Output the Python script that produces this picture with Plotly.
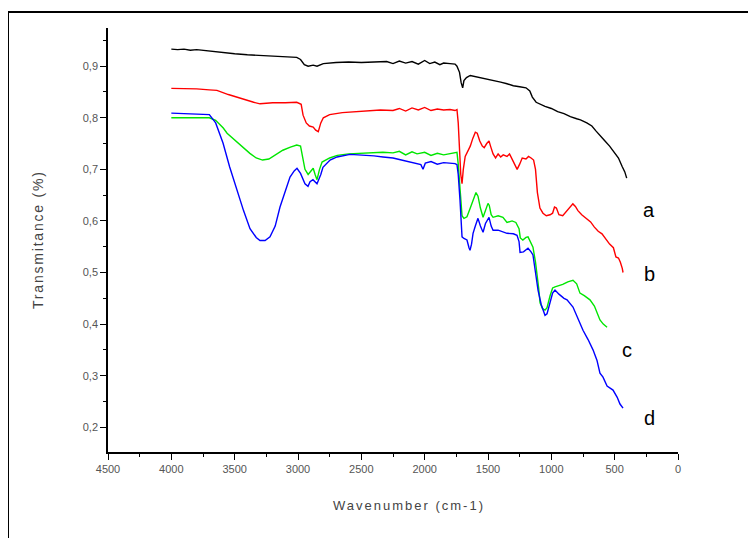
import plotly.graph_objects as go

# ---- data (wavenumber cm-1, transmittance) ----
wn_a = [4000, 3950, 3900, 3850, 3800, 3700, 3600, 3500, 3400, 3300, 3200, 3100, 3010, 2980, 2950, 2920,
        2880, 2850, 2800, 2700, 2600, 2500, 2400, 2300, 2250, 2200, 2150, 2100, 2050, 2000, 1960, 1920,
        1880, 1850, 1800, 1760, 1745, 1725, 1712, 1700, 1690, 1670, 1640, 1600, 1550, 1500, 1450, 1400,
        1350, 1300, 1250, 1200, 1170, 1150, 1120, 1090, 1050, 1000, 950, 900, 850, 800, 770, 720, 680,
        650, 620, 580, 540, 500, 470, 440, 420, 405]
t_a = [0.933, 0.932, 0.933, 0.931, 0.932, 0.929, 0.926, 0.924, 0.922, 0.921, 0.920, 0.919, 0.917, 0.913,
       0.903, 0.900, 0.902, 0.900, 0.905, 0.907, 0.908, 0.907, 0.908, 0.909, 0.905, 0.910, 0.906, 0.909,
       0.904, 0.911, 0.905, 0.908, 0.903, 0.906, 0.905, 0.904, 0.900, 0.888, 0.868, 0.858, 0.872, 0.878,
       0.882, 0.880, 0.878, 0.874, 0.872, 0.869, 0.866, 0.862, 0.860, 0.858, 0.852, 0.840, 0.830, 0.826,
       0.822, 0.818, 0.812, 0.808, 0.802, 0.798, 0.796, 0.790, 0.784, 0.775, 0.766, 0.756, 0.745, 0.733,
       0.722, 0.705, 0.695, 0.683]

wn_b = [4000, 3900, 3800, 3700, 3640, 3550, 3450, 3350, 3300, 3200, 3100, 3010, 2975, 2960, 2935, 2910,
        2880, 2860, 2840, 2820, 2800, 2750, 2650, 2550, 2450, 2350, 2250, 2200, 2150, 2100, 2050, 2000,
        1950, 1900, 1850, 1800, 1760, 1745, 1735, 1725, 1715, 1705, 1695, 1680, 1665, 1640, 1620, 1600,
        1585, 1565, 1545, 1530, 1510, 1492, 1480, 1460, 1440, 1420, 1400, 1380, 1350, 1330, 1300, 1270,
        1250, 1230, 1200, 1180, 1160, 1140, 1125, 1110, 1090, 1066, 1040, 1010, 990, 975, 960, 940, 910,
        880, 850, 830, 810, 790, 760, 720, 690, 660, 630, 600, 570, 540, 510, 490, 470, 455, 440, 434]
t_b = [0.857, 0.857, 0.856, 0.854, 0.853, 0.845, 0.837, 0.830, 0.827, 0.829, 0.829, 0.830, 0.826, 0.805,
       0.790, 0.784, 0.782, 0.776, 0.773, 0.790, 0.800, 0.806, 0.810, 0.812, 0.813, 0.815, 0.814, 0.818,
       0.813, 0.819, 0.815, 0.820, 0.814, 0.817, 0.815, 0.816, 0.814, 0.816, 0.790, 0.740, 0.690, 0.672,
       0.700, 0.725, 0.732, 0.745, 0.760, 0.772, 0.770, 0.755, 0.745, 0.742, 0.750, 0.755, 0.745, 0.730,
       0.722, 0.730, 0.724, 0.728, 0.725, 0.730, 0.715, 0.700, 0.710, 0.722, 0.720, 0.725, 0.722, 0.718,
       0.700, 0.655, 0.625, 0.615, 0.610, 0.612, 0.615, 0.627, 0.625, 0.612, 0.610, 0.618, 0.628, 0.633,
       0.628, 0.620, 0.612, 0.605, 0.598, 0.588, 0.580, 0.575, 0.565, 0.555, 0.548, 0.530, 0.528, 0.520,
       0.508, 0.500]

wn_c = [4000, 3900, 3800, 3700, 3650, 3590, 3560, 3500, 3450, 3380, 3330, 3280, 3230, 3180, 3120, 3060,
        3010, 2980, 2960, 2945, 2920, 2900, 2880, 2865, 2850, 2830, 2810, 2750, 2690, 2600, 2500, 2400,
        2330, 2250, 2200, 2150, 2100, 2060, 2000, 1950, 1900, 1850, 1800, 1760, 1745, 1735, 1722, 1710,
        1705, 1690, 1666, 1640, 1618, 1595, 1579, 1560, 1539, 1520, 1500, 1490, 1475, 1460, 1420, 1382,
        1350, 1310, 1280, 1255, 1245, 1225, 1200, 1184, 1165, 1145, 1125, 1113, 1100, 1089, 1070, 1050,
        1034, 1010, 990, 971, 940, 910, 870, 829, 800, 774, 740, 695, 660, 630, 616, 590, 560]
t_c = [0.800, 0.800, 0.801, 0.800, 0.795, 0.780, 0.770, 0.757, 0.745, 0.731, 0.722, 0.718, 0.720, 0.728,
       0.737, 0.743, 0.747, 0.745, 0.720, 0.700, 0.690, 0.695, 0.702, 0.690, 0.680, 0.700, 0.714, 0.722,
       0.727, 0.730, 0.731, 0.732, 0.733, 0.732, 0.735, 0.728, 0.734, 0.730, 0.733, 0.727, 0.731, 0.728,
       0.731, 0.733, 0.733, 0.710, 0.670, 0.640, 0.610, 0.605, 0.608, 0.625, 0.640, 0.655, 0.648, 0.625,
       0.607, 0.620, 0.634, 0.630, 0.612, 0.607, 0.610, 0.607, 0.597, 0.600, 0.597, 0.585, 0.567, 0.563,
       0.568, 0.569, 0.560, 0.549, 0.520, 0.499, 0.470, 0.441, 0.430, 0.427, 0.432, 0.455, 0.470, 0.472,
       0.474, 0.477, 0.482, 0.485, 0.478, 0.460, 0.455, 0.447, 0.435, 0.418, 0.408, 0.400, 0.394]

wn_d = [4000, 3900, 3800, 3700, 3650, 3592, 3540, 3482, 3430, 3379, 3330, 3300, 3260, 3221, 3180, 3142,
        3100, 3063, 3030, 3008, 2980, 2945, 2921, 2905, 2882, 2850, 2820, 2803, 2747, 2692, 2589, 2500,
        2400, 2329, 2250, 2200, 2150, 2060, 2030, 2013, 1995, 1950, 1900, 1850, 1800, 1760, 1745, 1735,
        1721, 1712, 1705, 1690, 1666, 1650, 1642, 1630, 1618, 1600, 1579, 1560, 1539, 1520, 1492, 1475,
        1460, 1420, 1350, 1300, 1271, 1255, 1247, 1220, 1184, 1160, 1145, 1125, 1105, 1080, 1060, 1050,
        1034, 1010, 990, 971, 940, 900, 876, 829, 790, 750, 710, 671, 640, 616, 592, 560, 513, 480, 458, 434]
t_d = [0.809, 0.808, 0.808, 0.806, 0.790, 0.751, 0.705, 0.660, 0.620, 0.585, 0.568, 0.562, 0.562, 0.569,
       0.590, 0.627, 0.660, 0.685, 0.697, 0.702, 0.692, 0.672, 0.667, 0.676, 0.680, 0.672, 0.690, 0.704,
       0.718, 0.724, 0.729, 0.728, 0.726, 0.724, 0.722, 0.719, 0.716, 0.712, 0.709, 0.700, 0.712, 0.715,
       0.710, 0.713, 0.712, 0.711, 0.709, 0.690, 0.640, 0.600, 0.569, 0.566, 0.563, 0.548, 0.543, 0.555,
       0.576, 0.590, 0.605, 0.590, 0.578, 0.595, 0.607, 0.590, 0.582, 0.582, 0.576, 0.575, 0.572, 0.560,
       0.539, 0.540, 0.547, 0.540, 0.534, 0.500, 0.466, 0.438, 0.425, 0.417, 0.420, 0.440, 0.460, 0.466,
       0.458, 0.450, 0.447, 0.433, 0.410, 0.388, 0.370, 0.350, 0.330, 0.305, 0.297, 0.280, 0.272, 0.258,
       0.245, 0.237]

series_names = ["a", "b", "c", "d"]
series_colors = ["#000000", "#ff0000", "#00e600", "#0000ff"]
x_ticks = [4500, 4000, 3500, 3000, 2500, 2000, 1500, 1000, 500, 0]
y_ticks = [0.2, 0.3, 0.4, 0.5, 0.6, 0.7, 0.8, 0.9]

# ---- layout geometry (screen pixels; page body adds an 8px offset) ----
OFF = 8
W, H = 756, 538
L, T = 108 - OFF, 28 - OFF
R = W - (678 - OFF)
B = H - (452 - OFF)
pw, ph = W - L - R, H - T - B

def px(xs):
    return (xs - OFF - L) / pw

def py(ys):
    return (H - B - (ys - OFF)) / ph

fig = go.Figure()
for wn, tv, name, col in zip([wn_a, wn_b, wn_c, wn_d], [t_a, t_b, t_c, t_d], series_names, series_colors):
    fig.add_trace(go.Scatter(x=wn, y=tv, mode="lines", name=name,
                             line=dict(color=col, width=1.4), showlegend=False))

FONT = "Liberation Sans, Arial, sans-serif"
axis_font = dict(family=FONT, size=11, color="#555555")
fig.update_xaxes(range=[4500, 0], tickvals=x_ticks, ticks="outside", ticklen=6, tickwidth=1.3,
                 tickcolor="#000", showline=True, linecolor="#000", linewidth=1.5, showgrid=False,
                 zeroline=False, tickfont=axis_font,
                 minor=dict(dtick=250, tick0=0, ticks="outside", ticklen=3, tickcolor="#000", showgrid=False))
fig.update_yaxes(range=[0.152, 0.974], tickvals=y_ticks, tickformat=".1f", ticks="outside", ticklen=6,
                 tickwidth=1.3, tickcolor="#000", showline=True, linecolor="#000", linewidth=1.5,
                 showgrid=False, zeroline=False, tickfont=axis_font,
                 minor=dict(dtick=0.1, tick0=0.15, ticks="outside", ticklen=3, tickcolor="#000", showgrid=False))

label_pos = [(649, 210), (649, 274), (627, 350), (649, 418)]
annotations = []
for name, (xs, ys) in zip(series_names, label_pos):
    annotations.append(dict(x=px(xs), y=py(ys), xref="paper", yref="paper", text=name, showarrow=False,
                            xanchor="center", yanchor="middle",
                            font=dict(family=FONT, size=20, color="#000")))
annotations.append(dict(x=px(409), y=py(505), xref="paper", yref="paper",
                        text='<span style="letter-spacing:2px">Wavenumber (cm-1)</span>',
                        showarrow=False, xanchor="center", yanchor="middle",
                        font=dict(family=FONT, size=13, color="#444")))
annotations.append(dict(x=px(38), y=py(240), xref="paper", yref="paper",
                        text='<span style="letter-spacing:1.8px">Transmitance (%)</span>', textangle=-90,
                        showarrow=False, xanchor="center", yanchor="middle",
                        font=dict(family=FONT, size=14, color="#444")))

fig.update_layout(
    width=W, height=H, margin=dict(l=L, r=R, t=T, b=B),
    paper_bgcolor="white", plot_bgcolor="white", separators=", ",
    annotations=annotations,
    shapes=[dict(type="rect", xref="paper", yref="paper", x0=px(8), x1=px(820), y0=py(620), y1=py(12),
                 line=dict(color="#000", width=2), fillcolor="rgba(0,0,0,0)", layer="above")],
)

fig.write_html("out.html")
